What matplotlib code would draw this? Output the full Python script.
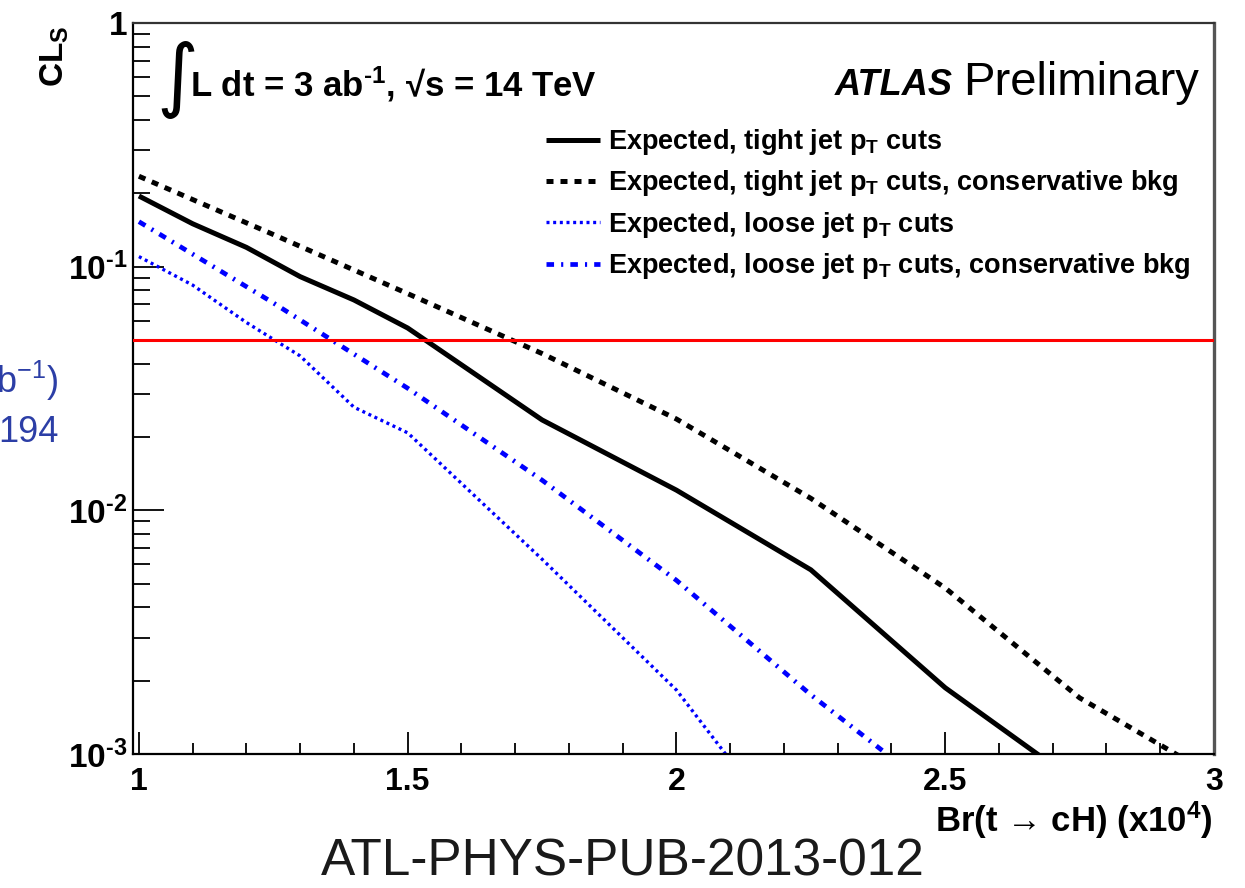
import matplotlib
matplotlib.use("Agg")
import matplotlib.pyplot as plt
from matplotlib import font_manager
from matplotlib.ticker import MultipleLocator, LogLocator, NullFormatter

# ---- data: expected CLs versus Br(t -> cH) x 10^4 ----
br_tight = [1.0, 1.1, 1.2, 1.3, 1.4, 1.5, 1.75, 2.0, 2.25, 2.5, 2.75]
cls_tight = [0.195, 0.150, 0.120, 0.091, 0.073, 0.056, 0.0235, 0.0121, 0.0057, 0.00187, 0.00075]

br_tight_cons = [1.0, 1.25, 1.5, 1.75, 2.0, 2.25, 2.5, 2.75, 3.0]
cls_tight_cons = [0.235, 0.1355, 0.0775, 0.044, 0.0237, 0.0112, 0.0048, 0.0017, 0.00081]

br_loose = [1.0, 1.1, 1.2, 1.3, 1.4, 1.5, 1.75, 2.0, 2.25]
cls_loose = [0.110, 0.084, 0.059, 0.043, 0.0265, 0.0208, 0.0063, 0.00183, 0.00035]

br_loose_cons = [1.0, 1.25, 1.5, 1.75, 2.0, 2.25, 2.5]
cls_loose_cons = [0.153, 0.071, 0.0317, 0.0133, 0.00516, 0.00175, 0.00065]

cls_threshold = 0.05

x_ticks = [1, 1.5, 2, 2.5, 3]
x_tick_labels = ["1", "1.5", "2", "2.5", "3"]
y_ticks = [1e-3, 1e-2, 1e-1, 1]
y_tick_labels = [r"$\mathbf{10^{\text{-}3}}$", r"$\mathbf{10^{\text{-}2}}$",
                 r"$\mathbf{10^{\text{-}1}}$", r"$\mathbf{1}$"]

legend_labels = [
    r"Expected, tight jet p$_{\mathbf{T}}$ cuts",
    r"Expected, tight jet p$_{\mathbf{T}}$ cuts, conservative bkg",
    r"Expected, loose jet p$_{\mathbf{T}}$ cuts",
    r"Expected, loose jet p$_{\mathbf{T}}$ cuts, conservative bkg",
]

# ---- style ----
SANS = ["Liberation Sans", "DejaVu Sans"]
plt.rcParams["font.family"] = SANS
plt.rcParams["mathtext.fontset"] = "custom"
plt.rcParams["mathtext.rm"] = "Liberation Sans:bold"
plt.rcParams["mathtext.it"] = "Liberation Sans:bold:italic"
plt.rcParams["mathtext.bf"] = "Liberation Sans:bold"


def have_font(name):
    try:
        font_manager.findfont(font_manager.FontProperties(family=name), fallback_to_default=False)
        return True
    except Exception:
        return False


NARROW = have_font("Liberation Sans Narrow")

W, H = 1245, 888
fig = plt.figure(figsize=(W / 100, H / 100), dpi=100)
fig.patch.set_facecolor("white")


def fx(px):
    return px / W


def fy(py):
    return 1 - py / H


ax = fig.add_axes([fx(133), fy(754), fx(1214) - fx(133), fy(23) - fy(754)])
ax.set_yscale("log")
ax.set_xlim(0.989, 3.0)
ax.set_ylim(1e-3, 1)

styles = [
    dict(color="black", lw=3.6, ls="-"),
    dict(color="black", lw=3.6, ls=(0, (1.4, 1.4))),
    dict(color="#0000ff", lw=2.4, ls=(0, (0.9, 1.1))),
    dict(color="#0000ff", lw=3.4, ls=(0, (1.6, 1.5, 0.45, 1.5))),
]
series = [
    (br_tight, cls_tight),
    (br_tight_cons, cls_tight_cons),
    (br_loose, cls_loose),
    (br_loose_cons, cls_loose_cons),
]
handles = []
for (xs, ys), st in zip(series, styles):
    (ln,) = ax.plot(xs, ys, solid_capstyle="butt", dash_capstyle="butt", **st)
    handles.append(ln)

ax.axhline(cls_threshold, color="#ff0000", lw=2.2, zorder=3)

# ---- axes frame and ticks ----
for side in ["left", "bottom"]:
    ax.spines[side].set_linewidth(1.6)
    ax.spines[side].set_color("black")
ax.spines["top"].set_linewidth(1.6)
ax.spines["top"].set_color("#333333")
ax.spines["right"].set_linewidth(2.4)
ax.spines["right"].set_color("#555555")

ax.set_xticks(x_ticks)
ax.set_xticklabels(x_tick_labels, fontweight="bold", fontsize=23)
ax.xaxis.set_minor_locator(MultipleLocator(0.1))
ax.set_yticks(y_ticks)
ax.set_yticklabels(y_tick_labels, fontsize=24)
ax.yaxis.set_minor_locator(LogLocator(base=10, subs=(2, 3, 4, 5, 6, 7, 8, 9)))
ax.yaxis.set_minor_formatter(NullFormatter())

ax.tick_params(which="both", direction="in", top=False, right=False, color="black", width=1.3)
ax.tick_params(axis="x", which="major", length=15.5, pad=9)
ax.tick_params(axis="x", which="minor", length=8)
ax.tick_params(axis="y", which="major", length=22, pad=4)
ax.tick_params(axis="y", which="minor", length=12)

# ---- axis titles ----
fig.text(fx(1213), fy(820), "Br(t \u2192 cH) (x10$^{\\mathbf{4}}$)", ha="right", va="center",
         fontsize=25, fontweight="bold", family=SANS)
fig.text(fx(55), fy(26), r"CL$_{\mathbf{S}}$", rotation=90, ha="center", va="top",
         fontsize=24, fontweight="bold")

# ---- annotations inside the frame ----
fig.text(fx(156), fy(80), "\u222b", family="DejaVu Sans", fontsize=58, ha="left", va="center")
fig.text(fx(190), fy(96), "L dt = 3 ab$^{\\text{-}1}$, \u221as = 14 TeV", ha="left", va="baseline",
         fontsize=25, fontweight="bold", family=SANS)
if NARROW:
    fig.text(fx(835), fy(95), "ATLAS", ha="left", va="baseline", fontsize=32,
             fontweight="bold", fontstyle="italic", family=["Liberation Sans Narrow"] + SANS)
else:
    fig.text(fx(835), fy(95), "ATLAS", ha="left", va="baseline", fontsize=26,
             fontweight="bold", fontstyle="italic")
fig.text(fx(963), fy(95), "Preliminary", ha="left", va="baseline", fontsize=34)

leg = ax.legend(handles, legend_labels, loc="upper left",
                bbox_to_anchor=(fx(546), fy(127)), bbox_transform=fig.transFigure,
                frameon=False, borderpad=0, borderaxespad=0,
                handlelength=2.0, handletextpad=0.3, labelspacing=0.42,
                prop=dict(family="Liberation Sans", weight="bold", size=19.5))

# ---- surrounding slide text ----
slide_blue = "#2c3ea6"
fig.text(fx(58), fy(381), "b$^{\\mathregular{-1}}$)", ha="right", va="center", fontsize=26,
         color=slide_blue)
fig.text(fx(59), fy(432), "194", ha="right", va="center", fontsize=26, color=slide_blue)
fig.text(fx(623), fy(862), "ATL-PHYS-PUB-2013-012", ha="center", va="center",
         fontsize=37, color="#1a1a1a")

fig.savefig("out.png", dpi=100, facecolor="white")
